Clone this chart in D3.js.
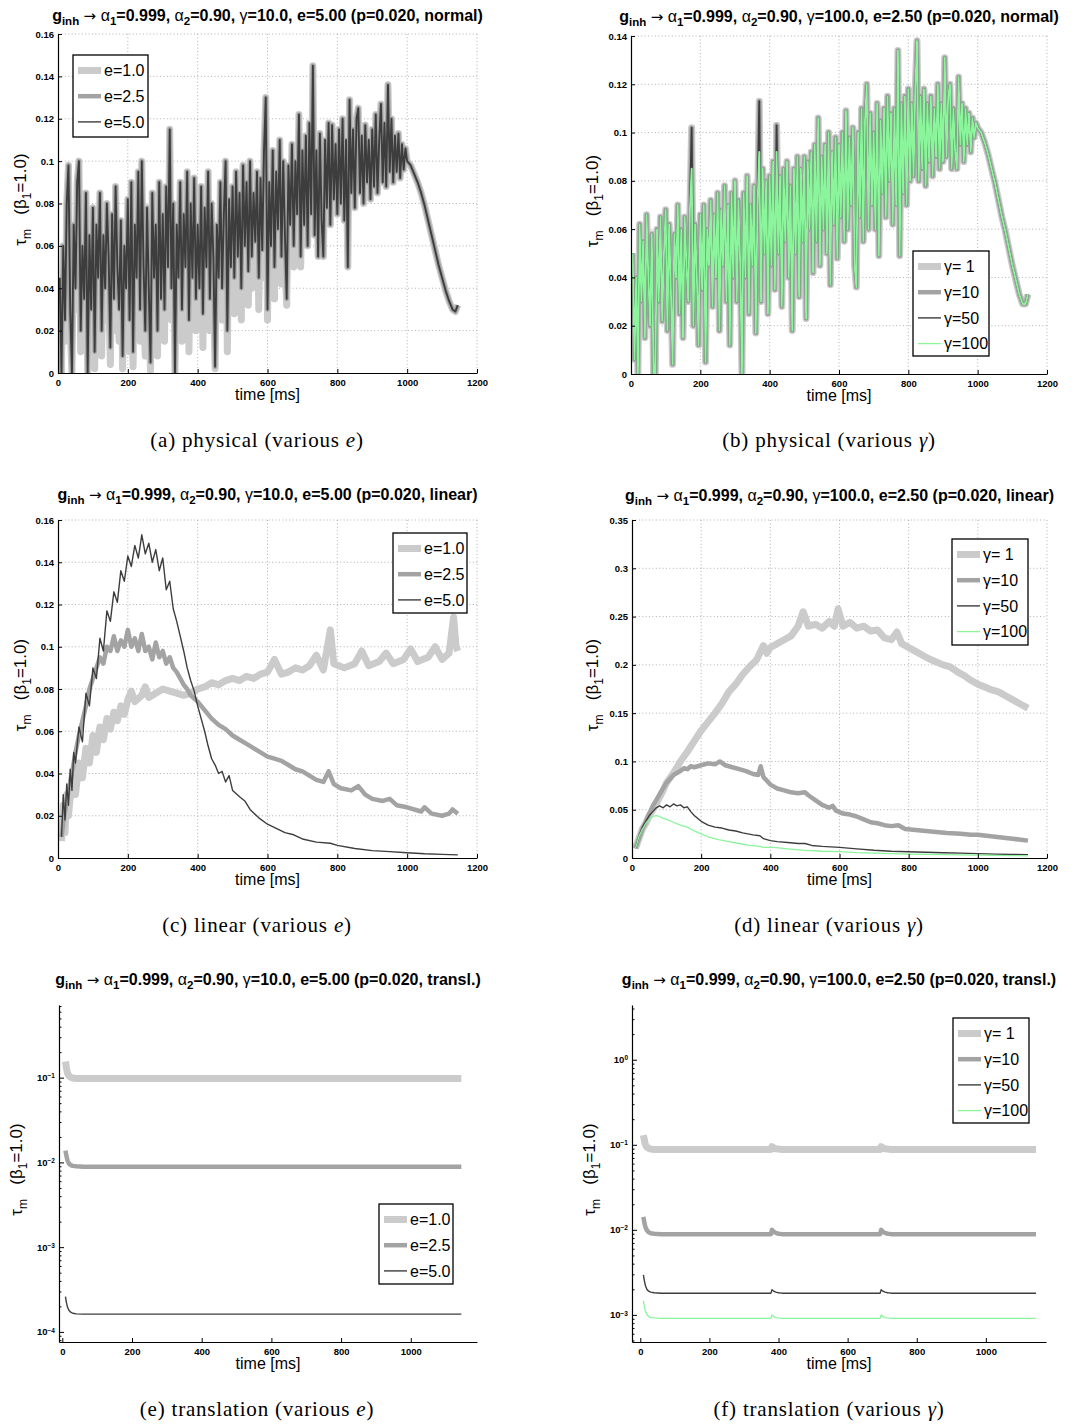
<!DOCTYPE html>
<html>
<head>
<meta charset="utf-8">
<script src="https://cdn.jsdelivr.net/npm/d3@7"></script>
<style>
body { margin: 0; background: #fff; }
text { font-family: "Liberation Sans", Arial, sans-serif; white-space: pre; }
</style>
</head>
<body>
<svg id="fig" width="1085" height="1427"></svg>
<script>
const svg = d3.select('#fig')

// ---------- data: "normal" runs (a) and (b), shared sampling in ms ----------
const timeNormal = [
    5, 10, 15, 20, 25, 30, 35, 40, 45, 50, 55, 60, 65, 70, 75, 80, 85, 90, 95, 100,
    105, 110, 115, 120, 125, 130, 135, 140, 145, 150, 155, 160, 165, 170, 175, 180, 185, 190, 195, 200,
    205, 210, 215, 220, 225, 230, 235, 240, 245, 250, 255, 260, 265, 270, 275, 280, 285, 290, 295, 300,
    305, 310, 315, 320, 325, 330, 335, 340, 345, 350, 355, 360, 365, 370, 375, 380, 385, 390, 395, 400,
    405, 410, 415, 420, 425, 430, 435, 440, 445, 450, 455, 460, 465, 470, 475, 480, 485, 490, 495, 500,
    505, 510, 515, 520, 525, 530, 535, 540, 545, 550, 555, 560, 565, 570, 575, 580, 585, 590, 595, 600,
    605, 610, 615, 620, 625, 630, 635, 640, 645, 650, 655, 660, 665, 670, 675, 680, 685, 690, 695, 700,
    705, 710, 715, 720, 725, 730, 735, 740, 745, 750, 755, 760, 765, 770, 775, 780, 785, 790, 795, 800,
    805, 810, 815, 820, 825, 830, 835, 840, 845, 850, 855, 860, 865, 870, 875, 880, 885, 890, 895, 900,
    905, 910, 915, 920, 925, 930, 935, 940, 945, 950, 955, 960, 965, 970, 975, 980, 985, 990, 995, 1000,
    1010, 1020, 1030, 1040, 1050, 1060, 1070, 1080, 1090, 1100, 1110, 1120, 1130, 1138, 1145
]

const tauA_e50 = [
    .045, .000, .060, .025, .080, .098, .030, .000, .070, .040, .090, .100, .020, .060, .035, .085, .000, .065, .030, .078,
    .010, .070, .045, .085, .020, .065, .040, .080, .055, .012, .075, .035, .088, .050, .030, .072, .008, .060, .040, .082,
    .025, .090, .010, .070, .045, .095, .030, .100, .050, .020, .078, .040, .005, .085, .045, .070, .020, .090, .035, .075,
    .030, .088, .050, .115, .040, .080, .000, .070, .045, .090, .030, .075, .050, .095, .025, .080, .045, .092, .035, .070,
    .040, .088, .028, .078, .050, .095, .035, .080, .055, .003, .070, .045, .090, .040, .075, .100, .020, .082, .050, .088,
    .045, .095, .055, .085, .040, .098, .060, .090, .048, .100, .055, .085, .062, .095, .045, .092, .058, .105, .130, .030,
    .090, .060, .105, .050, .095, .068, .110, .055, .100, .065, .035, .098, .070, .108, .060, .100, .075, .122, .055, .105,
    .070, .112, .060, .118, .075, .145, .065, .105, .055, .113, .072, .055, .110, .078, .118, .070, .117, .082, .108, .075,
    .115, .080, .120, .072, .110, .050, .129, .085, .115, .078, .120, .125, .085, .112, .080, .117, .090, .110, .082, .115,
    .088, .122, .085, .110, .127, .090, .118, .088, .136, .095, .120, .090, .112, .095, .113, .092, .108, .096, .106, .100,
    .098, .094, .090, .085, .079, .072, .065, .058, .051, .045, .039, .034, .030, .029, .032
]
// e=2.5 lies under e=5.0 everywhere in the picture
const tauA_e25 = tauA_e50
const tauA_e10 = [
    .035, .000, .060, .015, .080, .098, .020, .000, .070, .030, .090, .100, .010, .060, .025, .085, .000, .065, .020, .078,
    .002, .070, .030, .085, .008, .065, .025, .080, .040, .004, .075, .020, .088, .035, .015, .072, .002, .060, .025, .082,
    .010, .090, .003, .070, .030, .095, .015, .100, .035, .008, .078, .025, .001, .085, .030, .070, .008, .090, .020, .075,
    .015, .088, .035, .115, .025, .080, .000, .070, .030, .090, .015, .075, .035, .095, .010, .080, .030, .092, .020, .070,
    .025, .088, .012, .078, .035, .095, .020, .080, .040, .002, .070, .030, .090, .025, .075, .100, .010, .082, .035, .088,
    .028, .095, .040, .085, .025, .098, .045, .090, .032, .100, .040, .085, .048, .095, .030, .092, .045, .105, .130, .025,
    .090, .045, .105, .035, .095, .055, .110, .042, .100, .052, .032, .098, .060, .108, .050, .100, .068, .122, .050, .105,
    .070, .112, .060, .118, .075, .145, .065, .105, .055, .113, .072, .055, .110, .078, .118, .070, .117, .082, .108, .075,
    .115, .080, .120, .072, .110, .050, .129, .085, .115, .078, .120, .125, .085, .112, .080, .117, .090, .110, .082, .115,
    .088, .122, .085, .110, .127, .090, .118, .088, .136, .095, .120, .090, .112, .095, .113, .092, .108, .096, .106, .100,
    .098, .094, .090, .085, .079, .072, .065, .058, .051, .045, .039, .034, .030, .029, .032
]

const tauB_g100 = [
    .050, .006, .040, .000, .062, .030, .055, .015, .066, .040, .020, .058, .000, .000, .060, .030, .065, .022, .050, .068,
    .018, .062, .035, .004, .058, .040, .070, .025, .060, .015, .065, .045, .030, .068, .085, .020, .062, .040, .012, .066,
    .035, .070, .005, .060, .045, .072, .028, .066, .040, .075, .018, .068, .045, .078, .030, .070, .012, .075, .040, .080,
    .030, .072, .045, .000, .075, .040, .082, .025, .070, .045, .078, .017, .070, .092, .030, .085, .050, .080, .025, .082,
    .045, .088, .035, .092, .050, .082, .028, .085, .055, .088, .040, .078, .018, .085, .050, .090, .032, .085, .055, .090,
    .023, .088, .060, .092, .042, .095, .055, .106, .045, .090, .060, .095, .050, .100, .037, .092, .062, .098, .048, .095,
    .065, .100, .055, .109, .060, .098, .070, .102, .045, .036, .100, .065, .110, .055, .105, .120, .060, .108, .070, .100,
    .060, .112, .049, .105, .075, .110, .065, .115, .080, .108, .062, .110, .070, .134, .049, .112, .075, .115, .070, .118,
    .080, .112, .082, .118, .138, .080, .115, .085, .118, .078, .112, .088, .115, .082, .110, .090, .120, .085, .112, .088,
    .131, .090, .115, .120, .085, .110, .092, .085, .123, .095, .112, .088, .110, .095, .108, .092, .106, .098, .104, .102,
    .100, .096, .091, .085, .079, .072, .065, .059, .052, .045, .039, .033, .029, .029, .033
]
const tauB_g50 = [
    .050, .006, .040, .000, .062, .030, .055, .015, .066, .040, .020, .058, .000, .000, .060, .030, .065, .022, .050, .068,
    .018, .062, .035, .004, .058, .040, .070, .025, .060, .015, .065, .045, .030, .068, .102, .020, .062, .040, .012, .066,
    .035, .070, .005, .060, .045, .072, .028, .066, .040, .075, .018, .068, .045, .078, .030, .070, .012, .075, .040, .080,
    .030, .072, .045, .000, .075, .040, .082, .025, .070, .045, .078, .017, .070, .113, .030, .085, .050, .080, .025, .082,
    .045, .088, .035, .103, .050, .082, .028, .085, .055, .088, .040, .078, .018, .085, .050, .090, .032, .085, .055, .090,
    .023, .088, .060, .092, .042, .095, .055, .106, .045, .090, .060, .095, .050, .100, .037, .092, .062, .098, .048, .095,
    .065, .100, .055, .109, .060, .098, .070, .102, .045, .036, .100, .065, .110, .055, .105, .120, .060, .108, .070, .100,
    .060, .112, .049, .105, .075, .110, .065, .115, .080, .108, .062, .110, .070, .134, .049, .112, .075, .115, .070, .118,
    .080, .112, .082, .118, .138, .080, .115, .085, .118, .078, .112, .088, .115, .082, .110, .090, .120, .085, .112, .088,
    .131, .090, .115, .120, .085, .110, .092, .085, .123, .095, .112, .088, .110, .095, .108, .092, .106, .098, .104, .102,
    .100, .096, .091, .085, .079, .072, .065, .059, .052, .045, .039, .033, .029, .029, .033
]
// gamma=1 and gamma=10 only show as halos around gamma=50
const tauB_g10 = tauB_g50
const tauB_g1 = tauB_g50

// ---------- data: "linear" runs (c) and (d), [time ms, tau] ----------
const linE10 = [[10,.008],[15,.025],[20,.012],[25,.030],[30,.020],[40,.038],[50,.030],[60,.045],[70,.038],[80,.052],
    [90,.045],[100,.058],[110,.050],[120,.062],[130,.056],[140,.066],[150,.061],[160,.069],[170,.065],[180,.072],
    [190,.068],[200,.075],[210,.079],[220,.074],[240,.077],[250,.081],[260,.076],[280,.078],[300,.080],[320,.079],
    [340,.078],[360,.077],[380,.078],[400,.080],[420,.081],[440,.083],[460,.082],[480,.084],[500,.085],[520,.084],
    [540,.086],[560,.085],[580,.087],[600,.088],[620,.094],[640,.087],[660,.088],[680,.090],[700,.089],[720,.091],
    [740,.096],[760,.089],[780,.108],[790,.092],[820,.090],[850,.092],[870,.098],[890,.091],[920,.093],[940,.097],
    [960,.092],[990,.094],[1010,.099],[1030,.093],[1060,.095],[1080,.100],[1100,.094],[1120,.097],[1133,.114],[1140,.100],[1145,.098]]
const linE25 = [[10,.010],[20,.022],[30,.032],[40,.040],[50,.050],[60,.058],[70,.065],[80,.072],[90,.080],[100,.085],
    [110,.090],[120,.095],[130,.092],[140,.100],[150,.098],[160,.105],[170,.098],[180,.103],[190,.100],[200,.108],
    [210,.100],[220,.104],[230,.098],[240,.106],[250,.098],[260,.100],[270,.094],[280,.102],[290,.095],[300,.098],
    [310,.092],[320,.095],[330,.090],[340,.088],[350,.085],[360,.082],[370,.080],[380,.077],[400,.074],[420,.070],
    [440,.066],[460,.063],[480,.061],[500,.058],[520,.056],[540,.054],[560,.052],[580,.050],[600,.048],[620,.047],
    [640,.046],[660,.044],[680,.042],[700,.041],[720,.039],[740,.037],[760,.036],[775,.041],[790,.035],[810,.033],
    [840,.032],[860,.034],[880,.030],[900,.028],[930,.027],[950,.028],[970,.025],[1000,.024],[1040,.022],[1050,.024],
    [1070,.021],[1100,.020],[1120,.021],[1130,.023],[1145,.021]]
const linE50 = [[10,.010],[15,.030],[20,.018],[25,.035],[30,.025],[35,.042],[40,.032],[45,.050],[50,.045],[60,.062],
    [70,.055],[80,.078],[90,.072],[100,.090],[110,.085],[120,.104],[130,.098],[140,.117],[150,.112],[160,.126],
    [170,.121],[180,.136],[190,.131],[200,.143],[210,.138],[220,.148],[230,.142],[240,.153],[250,.144],[260,.149],
    [270,.140],[280,.146],[290,.136],[300,.142],[310,.127],[320,.131],[330,.118],[340,.112],[350,.105],[360,.098],
    [370,.090],[380,.084],[390,.079],[400,.072],[410,.066],[420,.060],[430,.053],[440,.047],[450,.044],[460,.040],
    [470,.041],[480,.036],[490,.039],[500,.032],[520,.029],[535,.027],[550,.023],[575,.019],[600,.016],[625,.014],
    [650,.012],[675,.011],[700,.009],[740,.0075],[780,.007],[800,.006],[850,.0045],[900,.0035],[950,.003],[1000,.0025],
    [1050,.002],[1100,.0017],[1145,.0015]]

const linG1 = [[10,.010],[20,.020],[30,.030],[40,.036],[50,.044],[60,.050],[70,.056],[80,.063],[90,.070],[100,.078],
    [120,.088],[140,.100],[160,.110],[180,.121],[200,.132],[220,.141],[240,.150],[260,.160],[280,.172],[300,.180],
    [320,.190],[340,.198],[360,.205],[380,.220],[390,.212],[400,.218],[420,.222],[440,.226],[460,.230],[480,.240],
    [495,.255],[510,.240],[530,.242],[550,.238],[570,.245],[585,.240],[596,.258],[610,.240],[630,.244],[650,.238],
    [670,.240],[690,.235],[710,.236],[730,.228],[750,.226],[766,.234],[780,.222],[800,.218],[820,.214],[840,.210],
    [860,.206],[880,.203],[900,.200],[920,.198],[940,.193],[960,.189],[980,.184],[1000,.180],[1020,.177],[1040,.174],
    [1060,.172],[1080,.168],[1100,.164],[1120,.160],[1145,.155]]
const linG10 = [[10,.010],[20,.020],[30,.030],[40,.038],[50,.046],[60,.054],[70,.060],[80,.066],[90,.072],[100,.078],
    [110,.082],[120,.086],[130,.088],[140,.090],[150,.093],[160,.092],[170,.095],[180,.094],[200,.096],[220,.098],
    [240,.097],[254,.100],[270,.096],[290,.094],[310,.092],[330,.090],[350,.087],[365,.086],[372,.095],[380,.084],
    [400,.076],[420,.072],[440,.070],[460,.068],[480,.067],[500,.068],[510,.065],[530,.060],[550,.055],[570,.052],
    [580,.054],[590,.049],[610,.046],[630,.045],[650,.043],[670,.040],[690,.037],[710,.036],[730,.034],[750,.033],
    [770,.034],[790,.030],[820,.029],[850,.028],[880,.027],[910,.026],[950,.025],[980,.024],[1000,.024],[1050,.022],
    [1100,.020],[1145,.018]]
const linG50 = [[10,.010],[20,.022],[30,.032],[40,.038],[50,.044],[60,.048],[70,.052],[80,.054],[90,.052],[100,.055],
    [110,.053],[120,.056],[130,.054],[140,.055],[150,.052],[160,.053],[170,.048],[180,.044],[200,.038],[220,.034],
    [240,.032],[260,.031],[280,.029],[300,.028],[320,.026],[350,.024],[370,.023],[380,.020],[400,.018],[420,.017],
    [450,.016],[480,.015],[500,.015],[520,.013],[550,.012],[600,.011],[650,.0095],[700,.008],[750,.007],[800,.0065],
    [850,.006],[900,.0055],[950,.005],[1000,.0045],[1050,.004],[1100,.0037],[1145,.0035]]
const linG100 = [[10,.010],[20,.022],[30,.030],[40,.036],[50,.040],[60,.043],[70,.044],[80,.043],[90,.041],[100,.040],
    [120,.037],[140,.034],[160,.032],[180,.028],[200,.025],[220,.022],[250,.019],[280,.017],[310,.015],[340,.013],
    [370,.012],[380,.011],[410,.011],[450,.0095],[500,.008],[550,.007],[600,.0065],[650,.0055],[700,.005],[800,.004],
    [900,.0035],[1000,.003],[1100,.0025],[1145,.0022]]

// ---------- data: "translation" runs (e) and (f) ----------
const timeTransE = [9, 12, 15, 19, 24, 30, 40, 60, 300, 600, 900, 1145]
const trE10 = [.155, .128, .113, .105, .101, .099, .098, .098, .098, .098, .098, .098]
const trE25 = [.0138, .0118, .0105, .0097, .0093, .0091, .0090, .0089, .0089, .0089, .0089, .0089]
const trE50 = [2.6e-4, 2.2e-4, 1.95e-4, 1.8e-4, 1.71e-4, 1.66e-4, 1.63e-4, 1.62e-4, 1.62e-4, 1.62e-4, 1.62e-4, 1.62e-4]

const timeTransF = [9, 12, 15, 19, 24, 30, 40, 60, 378, 381, 386, 392, 400, 410, 694, 697, 702, 708, 716, 726, 1145]
const trG1 = [.130, .112, .100, .094, .091, .089, .088, .088, .088, .095, .092, .090, .089, .088, .088, .095, .092, .090, .089, .088, .088]
const trG10 = [.0142, .0120, .0107, .0099, .0094, .0091, .0090, .0089, .0089, .0100, .0095, .0092, .0090, .0089, .0089, .0100, .0095, .0092, .0090, .0089, .0089]
const trG50 = [.00295, .0025, .0022, .0020, .0019, .00185, .00182, .0018, .0018, .00198, .0019, .00185, .00182, .0018, .0018, .00198, .0019, .00185, .00182, .0018, .0018]
const trG100 = [.00146, .00125, .0011, .00101, .00096, .00093, .00092, .00091, .00091, .0010, .00096, .00093, .00092, .00091, .00091, .0010, .00096, .00093, .00092, .00091, .00091]

// ---------- ticks and labels ----------
const timeTicks = [0, 200, 400, 600, 800, 1000, 1200]
const timeTicksLog = [0, 200, 400, 600, 800, 1000]
const tauTicks16 = [0, 0.02, 0.04, 0.06, 0.08, 0.1, 0.12, 0.14, 0.16]
const tauTicks14 = [0, 0.02, 0.04, 0.06, 0.08, 0.1, 0.12, 0.14]
const tauTicks35 = [0, 0.05, 0.1, 0.15, 0.2, 0.25, 0.3, 0.35]
const decadesE = [1e-4, 1e-3, 1e-2, 1e-1]
const decadesF = [1e-3, 1e-2, 1e-1, 1]
const eLabels = ['e=1.0', 'e=2.5', 'e=5.0']
const gLabels = ['\u03b3= 1', '\u03b3=10', '\u03b3=50', '\u03b3=100']

// ---------- styles ----------
const styleE = [
    { color: '#cbcbcb', width: 7 },
    { color: '#a3a3a3', width: 4.5 },
    { color: '#3d3d3d', width: 1.4 }
]
const styleG = [
    { color: '#cbcbcb', width: 7 },
    { color: '#a3a3a3', width: 4.5 },
    { color: '#3d3d3d', width: 1.4 },
    { color: '#8af59b', width: 1.3 }
]

const zipT = (t, v) => d3.zip(t, v)

const panels = [
    { id: 'a', left: 58, right: 477, top: 34, bottom: 373, titleY: 21, labelX: 26,
      gamma: '10.0', e: '5.00', mode: 'normal', xDomain: [0, 1200], yDomain: [0, 0.16],
      xTicks: timeTicks, yTicks: tauTicks16, log: false,
      series: [zipT(timeNormal, tauA_e10), zipT(timeNormal, tauA_e25), zipT(timeNormal, tauA_e50)],
      curveWidths: [7, 4.5, 1.9],
      labels: eLabels, styles: styleE, legend: { x: 73, y: 55, w: 75, h: 82 },
      cap: { x: 257, y: 447, pre: '(a) physical (various ', sym: 'e' } },
    { id: 'b', left: 631, right: 1047, top: 36, bottom: 374, titleY: 22, labelX: 598,
      gamma: '100.0', e: '2.50', mode: 'normal', xDomain: [0, 1200], yDomain: [0, 0.14],
      xTicks: timeTicks, yTicks: tauTicks14, log: false,
      series: [zipT(timeNormal, tauB_g1), zipT(timeNormal, tauB_g10), zipT(timeNormal, tauB_g50), zipT(timeNormal, tauB_g100)],
      curveWidths: [7, 4.5, 1.9, 1.9],
      labels: gLabels, styles: styleG, legend: { x: 913, y: 251, w: 76, h: 105 },
      cap: { x: 829, y: 447, pre: '(b) physical (various ', sym: '\u03b3' } },
    { id: 'c', left: 58, right: 477, top: 520, bottom: 858, titleY: 500, labelX: 26,
      gamma: '10.0', e: '5.00', mode: 'linear', xDomain: [0, 1200], yDomain: [0, 0.16],
      xTicks: timeTicks, yTicks: tauTicks16, log: false,
      series: [linE10, linE25, linE50],
      labels: eLabels, styles: styleE, legend: { x: 393, y: 533, w: 74, h: 80 },
      cap: { x: 257, y: 932, pre: '(c) linear (various ', sym: 'e' } },
    { id: 'd', left: 632, right: 1047, top: 520, bottom: 858, titleY: 501, labelX: 598,
      gamma: '100.0', e: '2.50', mode: 'linear', xDomain: [0, 1200], yDomain: [0, 0.35],
      xTicks: timeTicks, yTicks: tauTicks35, log: false,
      series: [linG1, linG10, linG50, linG100],
      labels: gLabels, styles: styleG, legend: { x: 952, y: 539, w: 76, h: 106 },
      cap: { x: 829, y: 932, pre: '(d) linear (various ', sym: '\u03b3' } },
    { id: 'e', left: 59, right: 477, top: 1005, bottom: 1342, titleY: 985, labelX: 22,
      gamma: '10.0', e: '5.00', mode: 'transl.', xDomain: [-9.5, 1190], yDomain: [7.6e-5, 0.72],
      xTicks: timeTicksLog, yTicks: decadesE, log: true,
      series: [zipT(timeTransE, trE10), zipT(timeTransE, trE25), zipT(timeTransE, trE50)],
      labels: eLabels, styles: styleE, legend: { x: 379, y: 1204, w: 74, h: 80 },
      cap: { x: 257, y: 1416, pre: '(e) translation (various ', sym: 'e' } },
    { id: 'f', left: 632, right: 1046, top: 1005, bottom: 1342, titleY: 985, labelX: 595,
      gamma: '100.0', e: '2.50', mode: 'transl.', xDomain: [-24, 1174], yDomain: [4.8e-4, 4.4],
      xTicks: timeTicksLog, yTicks: decadesF, log: true,
      series: [zipT(timeTransF, trG1), zipT(timeTransF, trG10), zipT(timeTransF, trG50), zipT(timeTransF, trG100)],
      labels: gLabels, styles: styleG, legend: { x: 953, y: 1018, w: 76, h: 105 },
      cap: { x: 829, y: 1416, pre: '(f) translation (various ', sym: '\u03b3' } }
]

// write a run of [text, kind] parts into a text element
// kind: b bold, n normal, a arrow glyph, s / bs subscript
function writeParts(el, parts, size, subSize, shift) {
    let inSub = false
    parts.forEach(([t, kind]) => {
        const sub = kind.includes('s')
        const ts = el.append('tspan').text(t)
            .style('font-weight', kind.startsWith('b') ? 'bold' : 'normal')
            .style('font-size', (sub ? subSize : size) + 'px')
        if (kind === 'a') ts.style('font-family', '"DejaVu Sans", sans-serif').style('font-size', (size - 1) + 'px')
        if (sub && !inSub) ts.attr('dy', shift)
        if (!sub && inSub) ts.attr('dy', -shift)
        inSub = sub
    })
}

function styleAxis(a) {
    a.attr('font-family', null).attr('font-size', null)
    a.select('.domain').attr('stroke', '#000').attr('stroke-width', 1.2)
    a.selectAll('.tick line').attr('stroke', '#000').attr('stroke-width', 1)
    a.selectAll('.tick text').attr('fill', '#000')
        .style('font-size', '9.5px').style('font-weight', 'bold')
}

function drawPanel(p) {
    const g = svg.append('g').attr('id', 'panel-' + p.id)
    const x = d3.scaleLinear().domain(p.xDomain).range([p.left, p.right])
    const y = (p.log ? d3.scaleLog() : d3.scaleLinear()).domain(p.yDomain).range([p.bottom, p.top])

    // dotted grid (linear panels only)
    if (!p.log) {
        const grid = g.append('g').attr('stroke', '#a8a8a8').attr('stroke-width', 0.9)
            .attr('stroke-dasharray', '1,2.4')
        grid.selectAll('.gx').data(p.xTicks.filter(d => d !== 0)).join('line')
            .attr('x1', d => x(d)).attr('x2', d => x(d)).attr('y1', p.top).attr('y2', p.bottom)
        grid.selectAll('.gy').data(p.yTicks.filter(d => d !== 0)).join('line')
            .attr('y1', d => y(d)).attr('y2', d => y(d)).attr('x1', p.left).attr('x2', p.right)
    }

    // curves
    const clipId = 'clip-' + p.id
    svg.append('clipPath').attr('id', clipId).append('rect')
        .attr('x', p.left).attr('y', p.top - 1)
        .attr('width', p.right - p.left).attr('height', p.bottom - p.top + 1)
    const line = d3.line().x(d => x(d[0])).y(d => y(d[1]))
    p.series.forEach((s, i) => {
        g.append('path').datum(s)
            .attr('d', line)
            .attr('fill', 'none')
            .attr('stroke', p.styles[i].color)
            .attr('stroke-width', p.curveWidths ? p.curveWidths[i] : p.styles[i].width)
            .attr('stroke-linejoin', 'round')
            .attr('clip-path', `url(#${clipId})`)
    })

    // axes
    const ax = g.append('g').attr('transform', `translate(0,${p.bottom})`)
        .call(d3.axisBottom(x).tickValues(p.xTicks).tickSizeInner(-4).tickSizeOuter(0)
            .tickPadding(6).tickFormat(d3.format('d')))
    styleAxis(ax)

    if (!p.log) {
        const ay = g.append('g').attr('transform', `translate(${p.left},0)`)
            .call(d3.axisLeft(y).tickValues(p.yTicks).tickSizeInner(-4).tickSizeOuter(0)
                .tickPadding(4).tickFormat(d => String(d)))
        styleAxis(ay)
    } else {
        const minor = y.ticks().filter(d => !p.yTicks.some(m => Math.abs(m - d) / m < 1e-6))
        const am = g.append('g').attr('transform', `translate(${p.left},0)`)
            .call(d3.axisLeft(y).tickValues(minor).tickSizeInner(-2.5).tickSizeOuter(0).tickFormat(''))
        styleAxis(am)
        am.select('.domain').remove()
        const ay = g.append('g').attr('transform', `translate(${p.left},0)`)
            .call(d3.axisLeft(y).tickValues(p.yTicks).tickSizeInner(-5).tickSizeOuter(0)
                .tickPadding(4).tickFormat(() => '10'))
        styleAxis(ay)
        ay.selectAll('.tick text').each(function (d) {
            const k = Math.round(Math.log10(d))
            d3.select(this).append('tspan')
                .attr('dy', '-0.45em')
                .style('font-size', '6.5px')
                .text(k === 0 ? '0' : '\u2212' + Math.abs(k))
        })
    }

    // title
    const cx = (p.left + p.right) / 2
    const title = g.append('text').attr('x', cx).attr('y', p.titleY).attr('text-anchor', 'middle')
    writeParts(title, [
        ['g', 'b'], ['inh', 'bs'], [' ', 'n'], ['\u2192', 'a'], [' \u03b1', 'n'], ['1', 'bs'], ['=0.999, ', 'b'],
        ['\u03b1', 'n'], ['2', 'bs'], ['=0.90, ', 'b'], ['\u03b3', 'n'],
        [`=${p.gamma}, e=${p.e} (p=0.020, ${p.mode})`, 'b']
    ], 16, 11.5, 4)

    // axis labels
    g.append('text').attr('x', cx).attr('y', p.bottom + 27).attr('text-anchor', 'middle')
        .style('font-size', '16px').text('time [ms]')
    const cy = (p.top + p.bottom) / 2 - 4
    const yl = g.append('text').attr('text-anchor', 'middle')
        .attr('transform', `translate(${p.labelX},${cy}) rotate(-90)`)
    writeParts(yl, [['\u03c4', 'n'], ['m', 's'], ['   (\u03b2', 'n'], ['1', 's'], ['=1.0)', 'n']], 17, 12, 5)

    // legend
    const L = p.legend
    const lg = g.append('g')
    lg.append('rect').attr('x', L.x).attr('y', L.y).attr('width', L.w).attr('height', L.h)
        .attr('fill', '#fff').attr('stroke', '#000').attr('stroke-width', 1.3)
    p.labels.forEach((lab, i) => {
        const ry = L.y + 15.5 + i * 25.7
        lg.append('line').attr('x1', L.x + 5).attr('x2', L.x + 28).attr('y1', ry).attr('y2', ry)
            .attr('stroke', p.styles[i].color).attr('stroke-width', p.styles[i].width)
        lg.append('text').attr('x', L.x + 31).attr('y', ry + 5.8)
            .style('font-size', '16px').text(lab)
    })

    // sub-figure caption
    const cap = g.append('text').attr('x', p.cap.x).attr('y', p.cap.y).attr('text-anchor', 'middle')
        .style('font-family', '"Liberation Serif", "Times New Roman", serif')
        .style('font-size', '21px').style('letter-spacing', '0.8px')
    cap.append('tspan').text(p.cap.pre)
    cap.append('tspan').style('font-style', 'italic').text(p.cap.sym)
    cap.append('tspan').text(')')
}

panels.forEach(drawPanel)
</script>
</body>
</html>
